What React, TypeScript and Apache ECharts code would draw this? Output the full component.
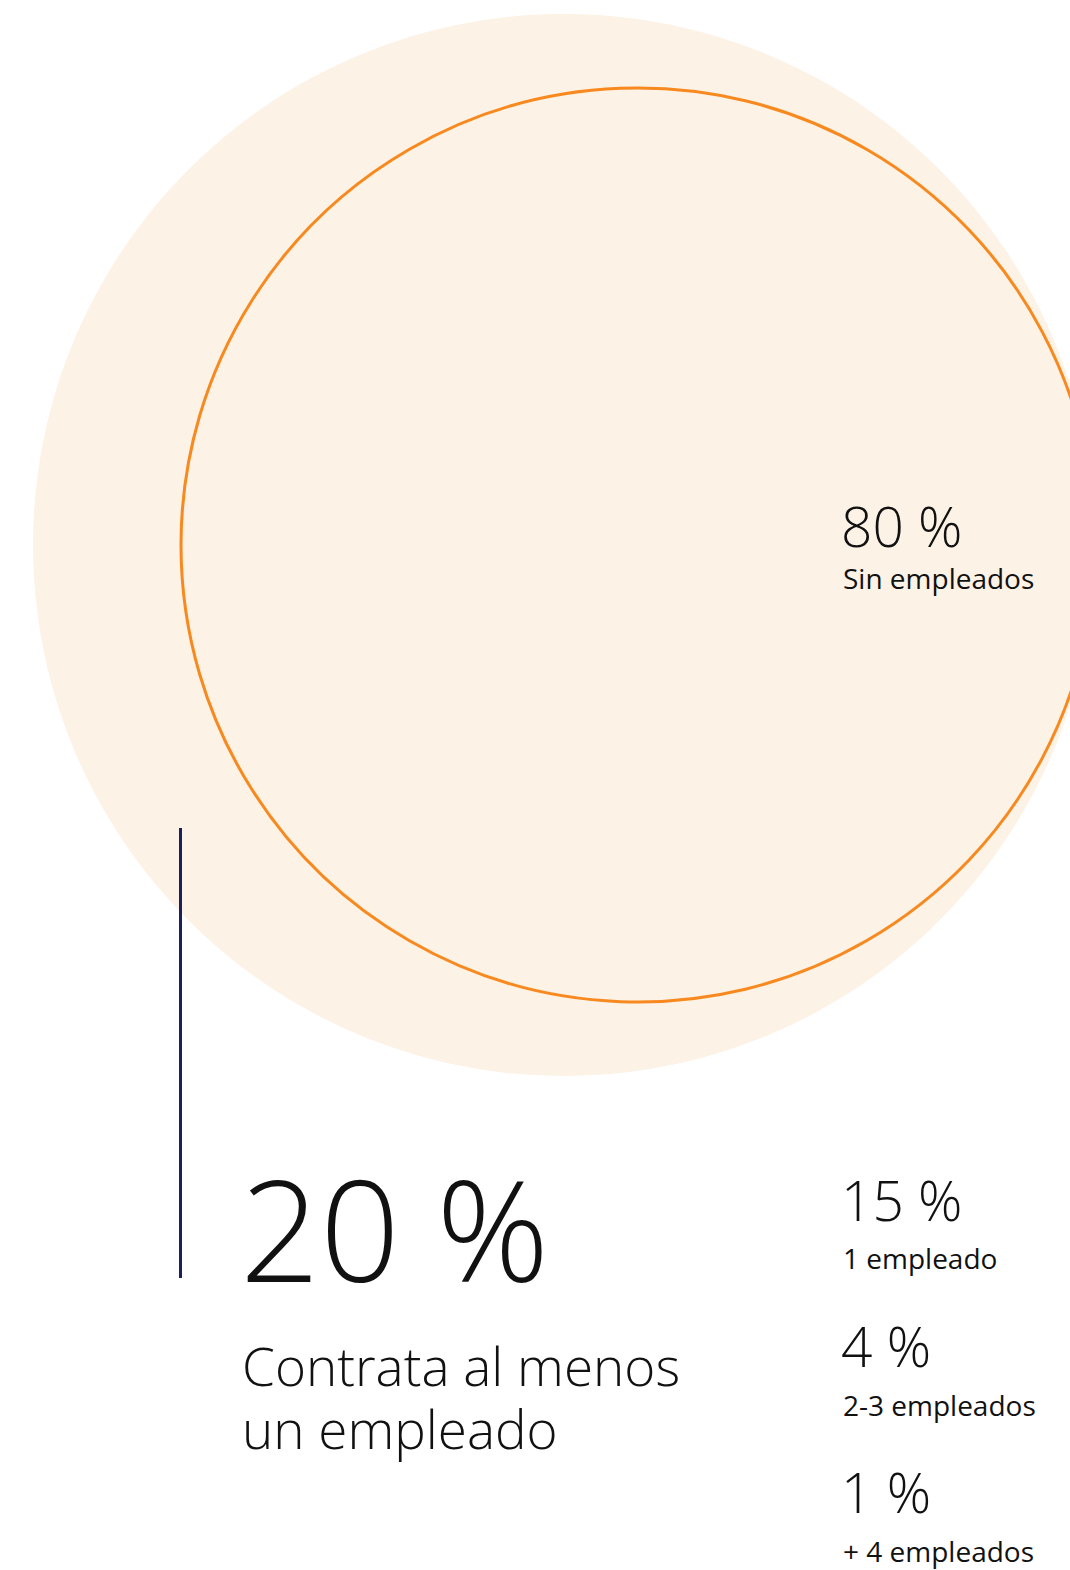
import React, { useEffect, useRef } from "react";
import * as echarts from "echarts";

const shares = [80, 15, 4, 1];
const shareLabels = ["Sin empleados", "1 empleado", "2-3 empleados", "+ 4 empleados"];
const totalHiring = 20;
const hiringLabelLines = ["Contrata al menos", "un empleado"];

const FONT = "'Open Sans', 'Noto Sans', sans-serif";

export default function App() {
  const ref = useRef<HTMLDivElement>(null);
  useEffect(() => {
    document.body.style.margin = "0";
    document.body.style.overflow = "hidden";
    const chart = echarts.init(ref.current!, undefined, { renderer: "svg" });
    const pct = (v: number) => `${v} %`;
    const txt = (text: string, x: number, y: number, size: number, weight = 300, lineHeight?: number) => ({
      type: "text",
      x,
      y,
      style: {
        text,
        fill: "#111111",
        font: `${weight} ${size}px ${FONT}`,
        lineHeight: lineHeight ?? size,
        textAlign: "left",
        textVerticalAlign: "middle",
      },
    });
    const graphic: any[] = [
      { type: "circle", shape: { cx: 564, cy: 545, r: 531 }, style: { fill: "#FDF2E6" } },
      {
        type: "circle",
        shape: { cx: 638, cy: 545, r: 457 },
        style: { fill: "none", stroke: "#F7891F", lineWidth: 3 },
      },
      {
        type: "line",
        shape: { x1: 180.5, y1: 828, x2: 180.5, y2: 1278 },
        style: { stroke: "#1B1F5C", lineWidth: 3 },
      },
      txt(pct(shares[0]), 841, 525, 55),
      txt(shareLabels[0], 843, 578, 28, 400),
      txt(pct(totalHiring), 240, 1227, 140),
      txt(hiringLabelLines.join("\n"), 242, 1397, 53, 300, 63),
      txt(pct(shares[1]), 841, 1199, 55),
      txt(shareLabels[1], 843, 1258, 28, 400),
      txt(pct(shares[2]), 841, 1345, 55),
      txt(shareLabels[2], 843, 1405, 28, 400),
      txt(pct(shares[3]), 841, 1491, 55),
      txt(shareLabels[3], 843, 1551, 28, 400),
    ];
    chart.setOption({ animation: false, backgroundColor: "#ffffff", graphic });
    return () => chart.dispose();
  }, []);
  return <div ref={ref} style={{ width: 1070, height: 1570 }} />;
}
